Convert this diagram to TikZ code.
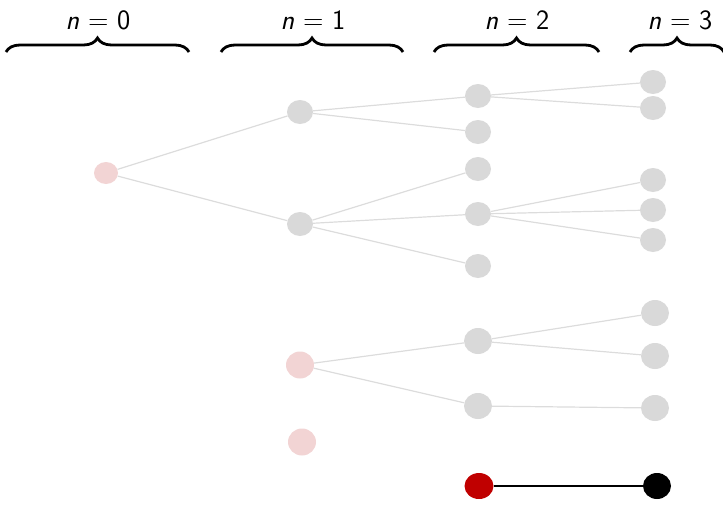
\documentclass[tikz,border=0pt]{standalone}
\usetikzlibrary{shapes.geometric,decorations.pathreplacing}
\definecolor{nodegray}{RGB}{217,217,217}
\definecolor{edgegray}{RGB}{220,220,220}
\definecolor{pinkish}{RGB}{242,212,212}
\definecolor{darkred}{RGB}{192,0,0}
\begin{document}
\begin{tikzpicture}[x=1pt,y=-1pt,
  dot/.style={ellipse,inner sep=0pt,minimum width=26pt,minimum height=24pt,fill=nodegray},
  pdot/.style={dot,fill=pinkish},
  edge/.style={draw=edgegray,line width=1.2pt},
  bracestyle/.style={decorate,decoration={brace,amplitude=14pt},line width=2.8pt},
  lbl/.style={font=\fontsize{28}{32}\selectfont\sffamily}]
\useasboundingbox (0,0) rectangle (723,514);
% labels and braces
\node[lbl] (L0) at (98,20) {\textit{n} = 0};
\node[lbl] (L1) at (313,20) {\textit{n} = 1};
\node[lbl] (L2) at (517,20) {\textit{n} = 2};
\node[lbl] (L3) at (680,20) {\textit{n} = 3};
\coordinate (b0a) at (6,52); \coordinate (b0b) at (189,52);
\coordinate (b1a) at (221,52); \coordinate (b1b) at (403,52);
\coordinate (b2a) at (434,52); \coordinate (b2b) at (599,52);
\coordinate (b3a) at (630,52); \coordinate (b3b) at (724,52);
\draw[bracestyle] (b0a) -- (b0b);
\draw[bracestyle] (b1a) -- (b1b);
\draw[bracestyle] (b2a) -- (b2b);
\draw[bracestyle] (b3a) -- (b3b);
% nodes
\node[pdot,minimum width=24pt,minimum height=22pt] (A0) at (106,173) {};
\node[dot] (B1) at (300,112) {};
\node[dot] (B2) at (300,224) {};
\node[pdot,minimum width=28pt,minimum height=27pt] (B3) at (300,365) {};
\node[pdot,minimum width=28pt,minimum height=27pt] (B4) at (302,442) {};
\node[dot] (C1) at (478,96) {};
\node[dot] (C2) at (478,132) {};
\node[dot] (C3) at (478,169) {};
\node[dot] (C4) at (478,214) {};
\node[dot] (C5) at (478,266) {};
\node[dot,minimum width=28pt,minimum height=26pt] (C6) at (478,341) {};
\node[dot,minimum width=28pt,minimum height=26pt] (C7) at (478,406) {};
\node[dot,fill=darkred,minimum width=29pt,minimum height=26pt] (C8) at (479,486) {};
\node[dot] (D1) at (653,82) {};
\node[dot] (D2) at (653,108) {};
\node[dot] (D3) at (653,180) {};
\node[dot] (D4) at (653,210) {};
\node[dot] (D5) at (653,240) {};
\node[dot,minimum width=28pt,minimum height=26pt] (D6) at (655,313) {};
\node[dot,minimum width=28pt,minimum height=26pt] (D7) at (655,356) {};
\node[dot,minimum width=28pt,minimum height=26pt] (D8) at (655,408) {};
\node[dot,fill=black,minimum width=28pt,minimum height=26pt] (D9) at (657,486) {};
% edges
\path[edge] (A0) -- (B1);
\path[edge] (A0) -- (B2);
\path[edge] (B1) -- (C1);
\path[edge] (B1) -- (C2);
\path[edge] (B2) -- (C3);
\path[edge] (B2) -- (C4);
\path[edge] (B2) -- (C5);
\path[edge] (B3) -- (C6);
\path[edge] (B3) -- (C7);
\path[edge] (C1) -- (D1);
\path[edge] (C1) -- (D2);
\path[edge] (C4) -- (D3);
\path[edge] (C4) -- (D4);
\path[edge] (C4) -- (D5);
\path[edge] (C6) -- (D6);
\path[edge] (C6) -- (D7);
\path[edge] (C7) -- (D8);
\draw[line width=1.5pt] (C8) -- (D9);
\end{tikzpicture}
\end{document}
